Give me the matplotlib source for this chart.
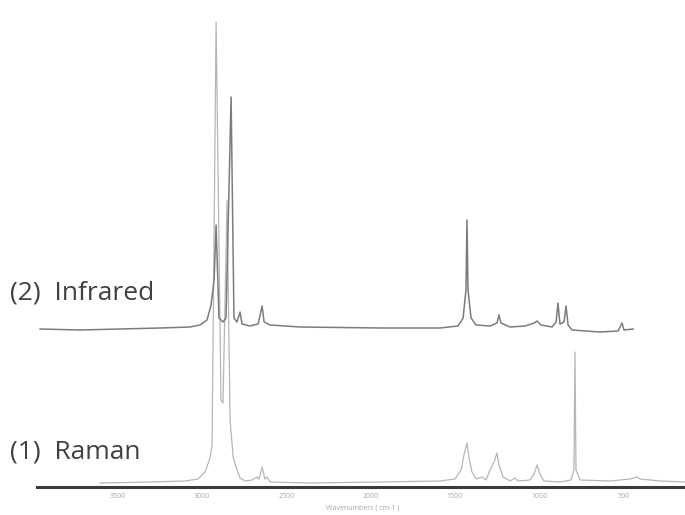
import matplotlib
matplotlib.use("Agg")
import matplotlib.pyplot as plt

plt.rcParams["font.family"] = ["Open Sans", "DejaVu Sans"]

# Raman spectrum: wavenumber (cm-1) vs intensity (a.u.)
raman_wn = [3607, 3310, 3102, 3025, 2984, 2954, 2942, 2918, 2889, 2877, 2853, 2835,
            2817, 2794, 2776, 2746, 2705, 2675, 2663, 2645, 2628, 2616, 2598, 2360,
            1945, 1589, 1500, 1464, 1447, 1429, 1417, 1399, 1375, 1340, 1316, 1292,
            1268, 1251, 1239, 1215, 1173, 1144, 1126, 1055, 1031, 1013, 996, 972,
            877, 811, 794, 788, 782, 758, 580, 461, 420, 402, 283, 135]
raman_int = [4, 5, 6, 8, 15, 29, 42, 465, 87, 84, 287, 67,
             30, 17, 9, 6, 7, 10, 8, 20, 8, 10, 5, 4,
             5, 6, 8, 17, 32, 44, 29, 15, 8, 10, 7, 17,
             25, 34, 22, 10, 6, 9, 6, 7, 13, 22, 13, 6,
             5, 7, 17, 135, 17, 7, 6, 8, 10, 8, 6, 5]

# Infrared spectrum: wavenumber (cm-1) vs absorbance (a.u.)
ir_wn = [3963, 3726, 3488, 3251, 3073, 3013, 2972, 2948, 2930, 2918, 2901, 2877,
         2859, 2829, 2812, 2794, 2776, 2764, 2717, 2669, 2645, 2633, 2598, 2420,
         1945, 1589, 1482, 1452, 1435, 1429, 1423, 1405, 1375, 1292, 1251, 1239,
         1227, 1173, 1084, 1031, 1013, 990, 924, 900, 889, 877, 853, 841,
         829, 806, 639, 532, 509, 497, 443]
ir_abs = [-1, -2, -1, 0, 1, 3, 8, 23, 48, 103, 10, 6,
          10, 231, 10, 6, 16, 4, 2, 4, 22, 6, 3, 1,
          0, 0, 2, 10, 38, 108, 38, 10, 3, 2, 5, 13,
          5, 1, 2, 5, 7, 3, 1, 6, 25, 4, 6, 22,
          3, -2, -4, -3, 5, -2, -1]
IR_OFFSET = 159

xticks = [3500, 3000, 2500, 2000, 1500, 1000, 500]

fig = plt.figure(figsize=(6.85, 5.15), dpi=100)
ax = fig.add_axes([37 / 685, 28 / 515, 648 / 685, 487 / 515])

ax.plot(raman_wn, raman_int, color="#b6b6b6", lw=0.9)
ax.plot(ir_wn, [a + IR_OFFSET for a in ir_abs], color="#7c7c7c", lw=1.1)

ax.set_xlim(3981, 135)
ax.set_ylim(0, 487)
for s in ["top", "right", "left"]:
    ax.spines[s].set_visible(False)
ax.spines["bottom"].set_color("#3a3a3a")
ax.spines["bottom"].set_linewidth(2.2)
ax.set_yticks([])
ax.set_xticks(xticks)
ax.set_xticklabels([str(t) for t in xticks])
ax.tick_params(axis="x", length=0, labelsize=5, labelcolor="#a8a8a8", pad=4)
ax.set_xlabel("Wavenumbers ( cm-1 )", fontsize=5, color="#a8a8a8")
ax.xaxis.set_label_coords((363 - 37) / 648, -0.036)

fig.text(10 / 685, 1 - 293 / 515, "(2)  Infrared", fontsize=19, color="#404040", va="center")
fig.text(10 / 685, 1 - 452 / 515, "(1)  Raman", fontsize=19, color="#404040", va="center")

fig.savefig("out.png", dpi=100)
